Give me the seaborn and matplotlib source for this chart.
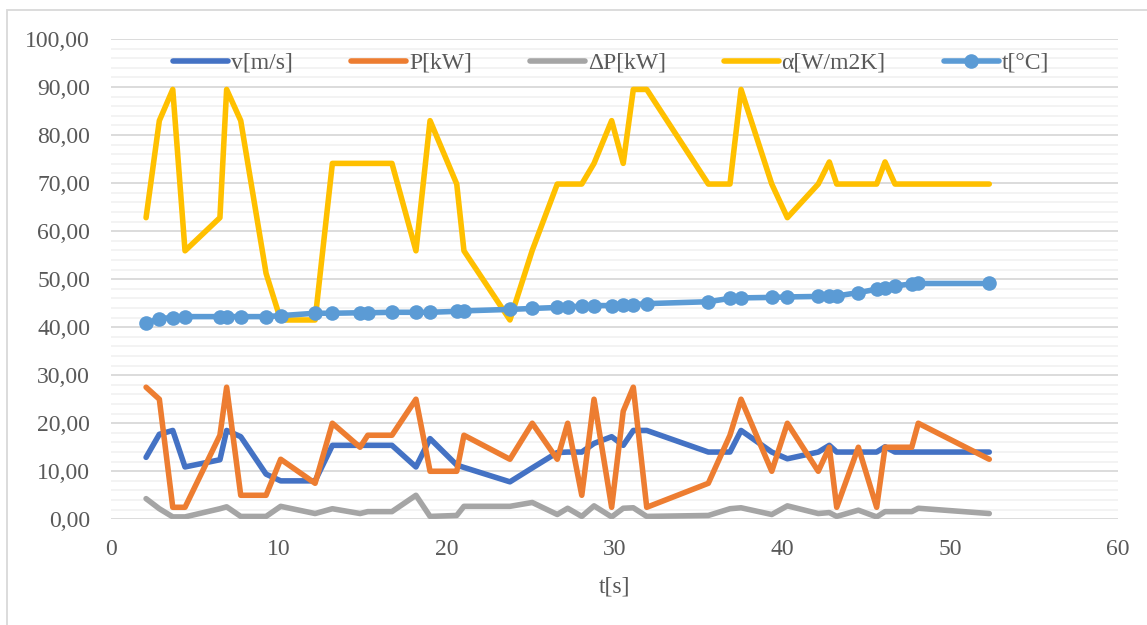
import matplotlib
matplotlib.use("Agg")
import matplotlib.pyplot as plt
import numpy as np
import pandas as pd
import seaborn as sns
from matplotlib.ticker import MultipleLocator, FuncFormatter
from matplotlib.lines import Line2D
from matplotlib.patches import Rectangle

# time of each measurement [s]
t_s = [2.09, 2.88, 3.68, 4.41, 6.49, 6.89, 7.73, 9.24, 10.11, 12.16, 13.19, 14.84,
       15.30, 16.74, 18.17, 19.01, 20.60, 21.03, 23.77, 25.10, 26.59, 27.21, 28.05,
       28.78, 29.83, 30.52, 31.12, 31.92, 35.59, 36.88, 37.54, 39.37, 40.30, 42.14,
       42.80, 43.24, 44.53, 45.62, 46.12, 46.71, 47.71, 48.10, 52.33]

# velocity v[m/s]
v_ms = [12.9, 17.7, 18.5, 10.9, 12.4, 18.5, 17.2, 9.4, 8.0, 8.0, 15.4, 15.4,
        15.4, 15.4, 10.9, 16.8, 11.3, 10.8, 7.8, 10.7, 13.9, 14.0, 14.0,
        15.8, 17.2, 15.4, 18.5, 18.5, 14.0, 14.0, 18.5, 14.0, 12.6, 14.0,
        15.4, 14.0, 14.0, 14.0, 15.1, 14.0, 14.0, 14.0, 14.0]

# power P[kW]
p_kw = [27.5, 25.0, 2.5, 2.5, 17.5, 27.5, 5.0, 5.0, 12.5, 7.5, 20.0, 15.0,
        17.5, 17.5, 25.0, 10.0, 10.0, 17.5, 12.5, 20.0, 12.5, 20.0, 5.0,
        25.0, 2.5, 22.5, 27.5, 2.5, 7.5, 17.5, 25.0, 10.0, 20.0, 10.0,
        15.0, 2.5, 15.0, 2.5, 15.0, 15.0, 15.0, 20.0, 12.5]

# power difference ΔP[kW]
dp_kw = [4.3, 2.2, 0.5, 0.5, 2.2, 2.6, 0.6, 0.6, 2.7, 1.2, 2.2, 1.2,
         1.6, 1.6, 5.0, 0.6, 0.8, 2.7, 2.7, 3.5, 1.0, 2.3, 0.6,
         2.8, 0.5, 2.3, 2.4, 0.6, 0.8, 2.2, 2.4, 1.0, 2.8, 1.2,
         1.4, 0.6, 1.9, 0.5, 1.6, 1.6, 1.6, 2.3, 1.2]

# heat transfer coefficient α[W/m2K]
alpha = [62.8, 83.0, 89.5, 55.9, 62.8, 89.5, 83.0, 51.2, 41.5, 41.5, 74.1, 74.1,
         74.1, 74.1, 55.9, 83.0, 69.8, 55.9, 41.5, 56.0, 69.8, 69.8, 69.8,
         74.1, 83.0, 74.1, 89.5, 89.5, 69.8, 69.8, 89.5, 69.8, 62.8, 69.8,
         74.4, 69.8, 69.8, 69.8, 74.4, 69.8, 69.8, 69.8, 69.8]

# temperature t[°C]
temp_c = [40.8, 41.8, 42.0, 42.2, 42.2, 42.2, 42.2, 42.2, 42.4, 42.9, 42.9, 43.0,
          43.0, 43.1, 43.1, 43.1, 43.3, 43.4, 43.7, 43.9, 44.1, 44.2, 44.4,
          44.5, 44.5, 44.6, 44.7, 44.9, 45.3, 46.0, 46.1, 46.2, 46.3, 46.4,
          46.5, 46.5, 47.2, 47.9, 48.1, 48.6, 49.0, 49.1, 49.1]

labels = ["v[m/s]", "P[kW]", "ΔP[kW]", "α[W/m2K]", "t[°C]"]
colors = ["#4472C4", "#ED7D31", "#A5A5A5", "#FFC000", "#5B9BD5"]

df = pd.DataFrame({"t": t_s, "v": v_ms, "P": p_kw, "dP": dp_kw,
                   "alpha": alpha, "temp": temp_c})
cols = ["v", "P", "dP", "alpha", "temp"]

sns.set_theme(style="white")
plt.rcParams["font.family"] = ["Liberation Serif", "DejaVu Serif"]
text_col = "#595959"
fs = 17

W, H = 1147, 625
fig = plt.figure(figsize=(W / 100, H / 100), dpi=100)
x0, x1, ytop, ybot = 111, 1118, 39, 519.3
ax = fig.add_axes([x0 / W, 1 - ybot / H, (x1 - x0) / W, (ybot - ytop) / H])

lw = 4.0
msize = 10.5
for col, lab, c in zip(cols, labels, colors):
    kw = dict(color=c, lw=lw, sort=False, solid_capstyle="round",
              solid_joinstyle="round", ax=ax, legend=False)
    if col == "temp":
        kw.update(marker="o", markersize=msize, markeredgewidth=0)
    sns.lineplot(data=df, x="t", y=col, **kw)

ax.set_xlim(0, 60)
ax.set_ylim(0, 100)
ax.xaxis.set_major_locator(MultipleLocator(10))
ax.yaxis.set_major_locator(MultipleLocator(10))
ax.yaxis.set_minor_locator(MultipleLocator(2))
ax.yaxis.set_major_formatter(FuncFormatter(lambda v, p: f"{v:.2f}".replace(".", ",")))
ax.set_axisbelow(True)
ax.grid(False)
ax.grid(which="minor", axis="y", color="#F2F2F2", lw=1.3)
ax.grid(which="major", axis="y", color="#D9D9D9", lw=1.3)
for s in ax.spines.values():
    s.set_visible(False)
ax.tick_params(which="both", length=0, labelsize=fs, labelcolor=text_col)
ax.tick_params(axis="y", pad=15)
ax.tick_params(axis="x", pad=14)
ax.set_xlabel("t[s]", fontsize=fs, color=text_col, labelpad=12)
ax.set_ylabel("")

handles = []
for col, lab, c in zip(cols, labels, colors):
    if col == "temp":
        h = Line2D([], [], color=c, lw=lw, marker="o", markersize=msize,
                   markeredgewidth=0, solid_capstyle="round")
    else:
        h = Line2D([], [], color=c, lw=lw, solid_capstyle="round")
    handles.append(h)
leg = ax.legend(handles, labels, ncol=5, loc="center",
                bbox_to_anchor=((611 - x0) / (x1 - x0), (ybot - 63) / (ybot - ytop)),
                frameon=False, fontsize=fs, handlelength=2.33, handletextpad=0.13,
                columnspacing=2.45, borderpad=0, borderaxespad=0)
for t in leg.get_texts():
    t.set_color(text_col)

fig.patches.append(Rectangle((7 / W, -0.1), 1.2, 1 - 10 / H + 0.1,
                             transform=fig.transFigure, fill=False,
                             edgecolor="#D9D9D9", lw=1.3))

fig.savefig("out.png", dpi=100, facecolor="white")
